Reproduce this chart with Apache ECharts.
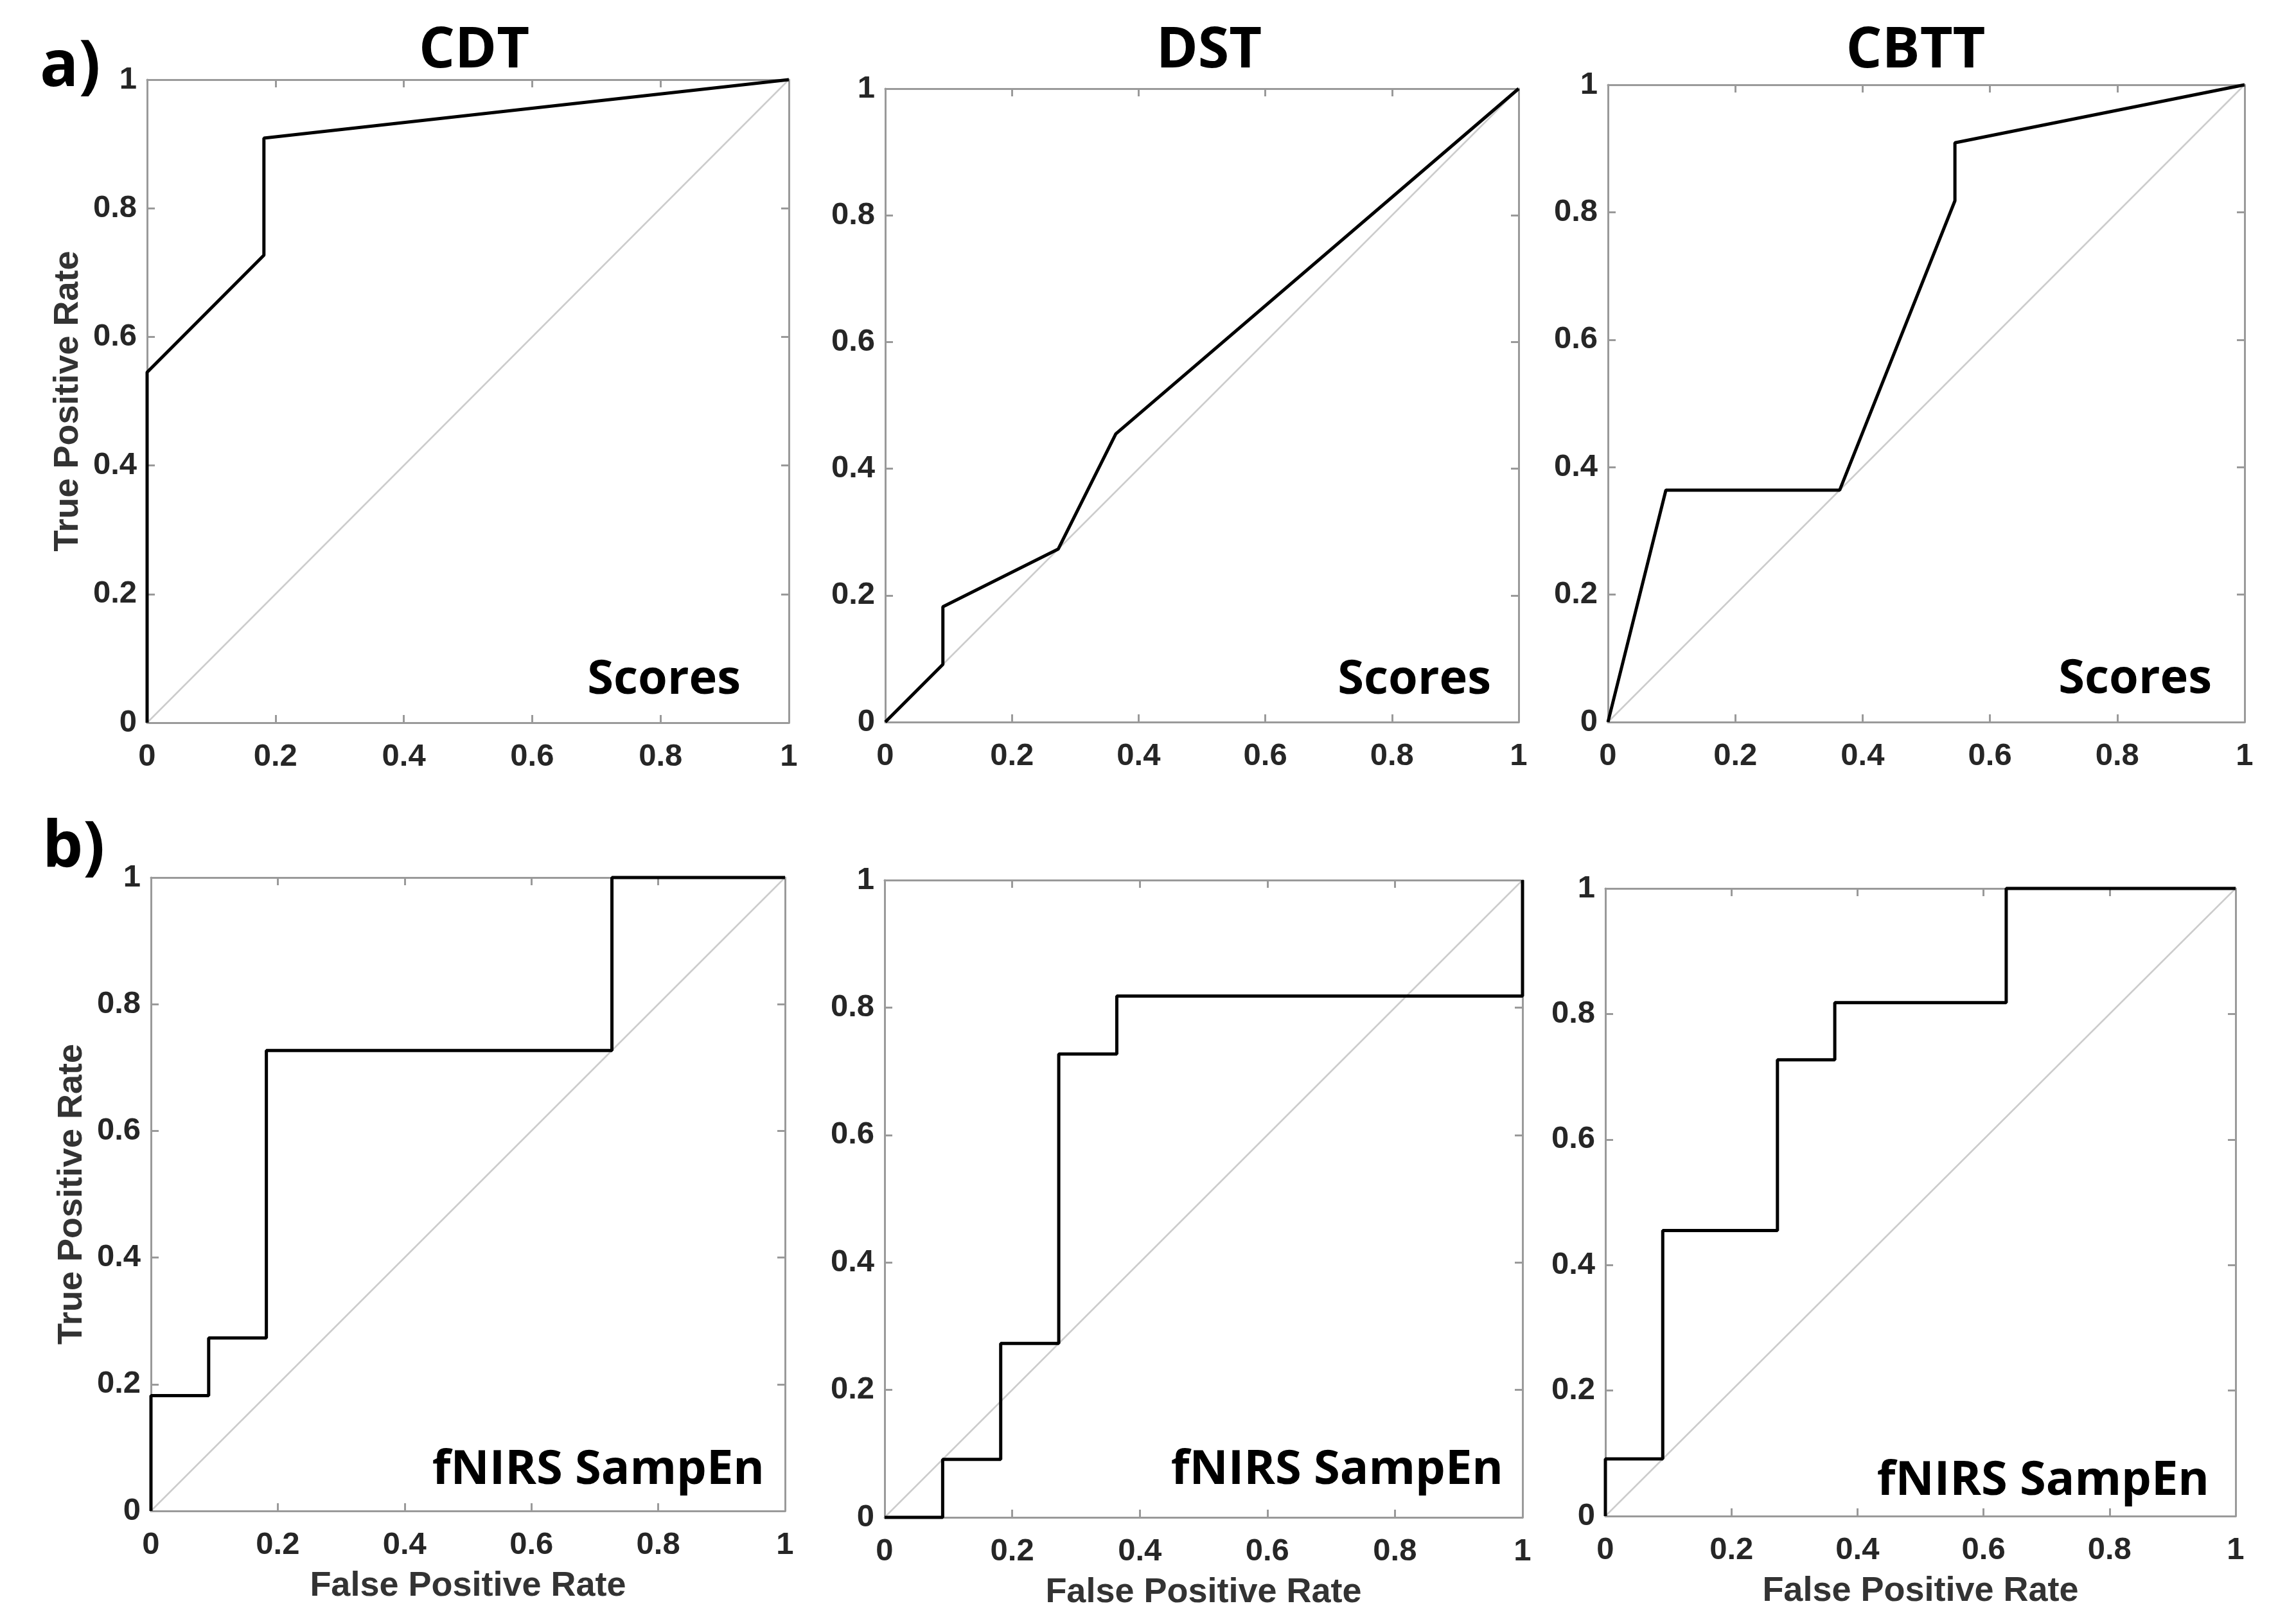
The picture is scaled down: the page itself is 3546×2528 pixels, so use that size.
<!DOCTYPE html>
<html>
<head>
<meta charset="utf-8">
<script src="https://cdn.jsdelivr.net/npm/echarts@6/dist/echarts.min.js"></script>
<style>
html,body{margin:0;padding:0;background:#fff;}
#chart{width:3546px;height:2528px;}
</style>
</head>
<body>
<div id="chart"></div>
<script>
// ---- data ----
const panelTitles = ['CDT', 'DST', 'CBTT'];
const rowLabels = ['a)', 'b)'];
const rowTags = ['Scores', 'fNIRS SampEn'];
const tickValues = [0, 0.2, 0.4, 0.6, 0.8, 1];
const xAxisName = 'False Positive Rate';
const yAxisName = 'True Positive Rate';
const chanceLine = [[0, 0], [1, 1]];

const rocScoresCDT = [[0, 0], [0, 0.545], [0.182, 0.727], [0.182, 0.909], [1, 1]];
const rocScoresDST = [[0, 0], [0.091, 0.091], [0.091, 0.182], [0.273, 0.273], [0.364, 0.455], [1, 1]];
const rocScoresCBTT = [[0, 0], [0.091, 0.364], [0.364, 0.364], [0.545, 0.818], [0.545, 0.909], [1, 1]];
const rocSampEnCDT = [[0, 0], [0, 0.182], [0.091, 0.182], [0.091, 0.273], [0.182, 0.273], [0.182, 0.727], [0.727, 0.727], [0.727, 1], [1, 1]];
const rocSampEnDST = [[0, 0], [0.091, 0], [0.091, 0.091], [0.182, 0.091], [0.182, 0.273], [0.273, 0.273], [0.273, 0.727], [0.364, 0.727], [0.364, 0.818], [1, 0.818], [1, 1]];
const rocSampEnCBTT = [[0, 0], [0, 0.091], [0.091, 0.091], [0.091, 0.455], [0.273, 0.455], [0.273, 0.727], [0.364, 0.727], [0.364, 0.818], [0.636, 0.818], [0.636, 1], [1, 1]];

const curves = [rocScoresCDT, rocScoresDST, rocScoresCBTT, rocSampEnCDT, rocSampEnDST, rocSampEnCBTT];

// ---- layout ----
const grids = [
  {left: 229, top: 124, width: 999, height: 1001},
  {left: 1378, top: 138, width: 986, height: 986},
  {left: 2503, top: 132, width: 991, height: 992},
  {left: 235, top: 1366, width: 987, height: 986},
  {left: 1377, top: 1370, width: 993, height: 992},
  {left: 2499, top: 1383, width: 981, height: 977}
];
const tagRightInset = [75, 43, 51, 32, 30, 41];
const tagBottom = [1096, 1096, 1095, 2326, 2326, 2343];
const titleCenters = [[738, 80], [1882, 80], [2982, 80]];
const rowLabelPos = [[62, 106], [66, 1322]];

const frameColor = '#9a9a9a';
const tickFont = {fontFamily: 'Liberation Sans, Arial, sans-serif', fontWeight: 'bold', fontSize: 49, color: '#262626'};

const xAxes = [], yAxes = [], series = [], graphics = [];

grids.forEach((g, i) => {
  const row = Math.floor(i / 3), col = i % 3;
  const base = {
    type: 'value', min: 0, max: 1, interval: 0.2, gridIndex: i,
    splitLine: {show: false},
    axisLine: {show: true, onZero: false, lineStyle: {color: frameColor, width: 3}},
    axisTick: {show: true, inside: true, length: 12, lineStyle: {color: frameColor, width: 3}}
  };
  xAxes.push(Object.assign({}, base, {
    position: 'bottom',
    name: row === 1 ? xAxisName : '',
    nameLocation: 'middle', nameGap: 90,
    nameTextStyle: {fontFamily: 'Liberation Sans, Arial, sans-serif', fontWeight: 'bold', fontSize: 54, color: '#333'},
    axisLabel: Object.assign({margin: 29}, tickFont)
  }));
  xAxes.push(Object.assign({}, base, {position: 'top', axisLabel: {show: false}}));
  yAxes.push(Object.assign({}, base, {
    position: 'left',
    name: col === 0 ? yAxisName : '',
    nameLocation: 'middle', nameGap: 96, nameRotate: 90,
    nameTextStyle: {fontFamily: 'Liberation Sans, Arial, sans-serif', fontWeight: 'bold', fontSize: 54, color: '#333'},
    axisLabel: Object.assign({margin: 16}, tickFont)
  }));
  yAxes.push(Object.assign({}, base, {position: 'right', axisLabel: {show: false}}));

  series.push({
    type: 'line', xAxisIndex: 2 * i, yAxisIndex: 2 * i, data: chanceLine,
    showSymbol: false, silent: true, clip: false, z: 1,
    lineStyle: {color: '#cccccc', width: 2.5}
  });
  series.push({
    type: 'line', xAxisIndex: 2 * i, yAxisIndex: 2 * i, data: curves[i],
    showSymbol: false, silent: true, clip: false, z: 3,
    lineStyle: {color: '#000000', width: 5}
  });

  graphics.push({
    type: 'text',
    x: g.left + g.width - tagRightInset[i], y: tagBottom[i],
    style: {
      text: rowTags[row], align: 'right', verticalAlign: 'bottom',
      fontFamily: 'Open Sans, Noto Sans, sans-serif', fontWeight: 'bold', fontSize: 74, fill: '#000',
      lineHeight: 74
    },
    z: 10
  });
});

panelTitles.forEach((t, c) => {
  graphics.push({
    type: 'text', x: titleCenters[c][0], y: titleCenters[c][1],
    style: {text: t, align: 'center', verticalAlign: 'middle',
      fontFamily: 'Open Sans, Noto Sans, sans-serif', fontWeight: 'bold', fontSize: 88, fill: '#000'}
  });
});
rowLabels.forEach((t, r) => {
  graphics.push({
    type: 'text', x: rowLabelPos[r][0], y: rowLabelPos[r][1],
    style: {text: t, align: 'left', verticalAlign: 'middle',
      fontFamily: 'Open Sans, Noto Sans, sans-serif', fontWeight: 'bold', fontSize: 100, fill: '#000'}
  });
});

const chart = echarts.init(document.getElementById('chart'), null, {renderer: 'canvas'});
chart.setOption({
  backgroundColor: '#ffffff',
  animation: false,
  grid: grids.map(g => Object.assign({containLabel: false, show: false}, g)),
  xAxis: xAxes,
  yAxis: yAxes,
  series: series,
  graphic: graphics
});
</script>
</body>
</html>
